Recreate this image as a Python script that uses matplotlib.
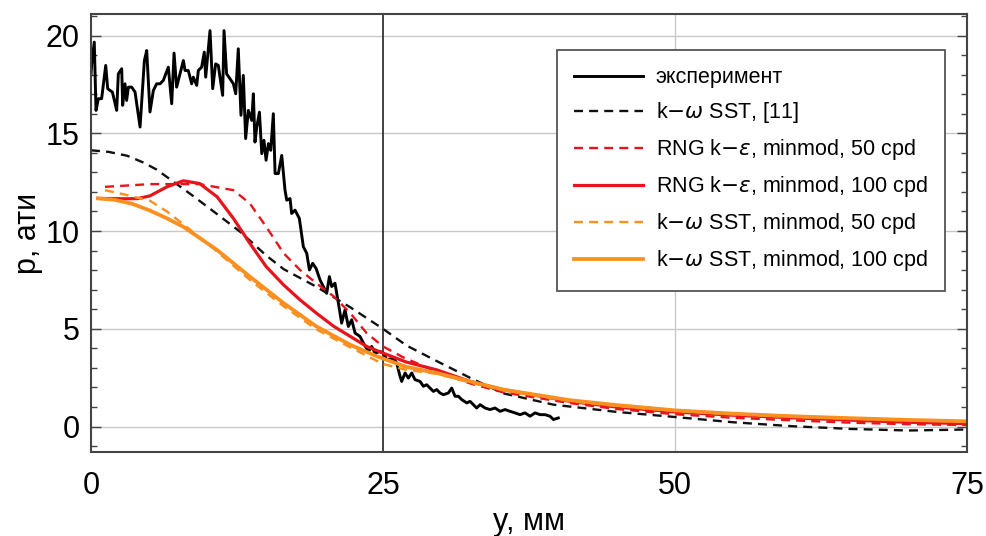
import matplotlib.pyplot as plt

plt.rcParams['font.family'] = ['Liberation Sans', 'DejaVu Sans']
plt.rcParams['mathtext.fontset'] = 'dejavusans'

exp_y = [0.0, 0.06, 0.28, 0.43, 0.63, 0.91, 1.26, 1.43, 1.63, 1.83, 2.00, 2.20, 2.34, 2.63, 2.71,
         2.91, 3.05, 3.20, 3.48, 3.77, 4.20, 4.57, 4.77, 5.05, 5.34, 5.62, 5.91, 6.19, 6.62, 6.91,
         7.11, 7.33, 7.62, 7.91, 8.05, 8.33, 8.62, 8.76, 9.05, 9.19, 9.47, 9.70, 9.82, 10.19, 10.42,
         10.67, 10.90, 11.27, 11.39, 11.61, 11.90, 12.19, 12.39, 12.61, 12.84, 13.04, 13.24, 13.47,
         13.76, 13.90,
         14.04, 14.19, 14.42, 14.62, 14.81, 14.99, 15.19, 15.39, 15.61, 15.76, 16.04, 16.33, 16.61,
         16.76, 17.04,
         17.18, 17.47, 17.84, 18.18, 18.47, 18.70, 18.98, 19.27, 19.61, 19.89, 20.18, 20.41, 20.61,
         20.89, 21.18, 21.46, 21.75, 22.03, 22.32, 22.61, 23.03, 23.32, 23.75, 24.03, 24.32, 24.75,
         25.03, 25.32, 25.89, 26.17, 26.46, 26.60, 26.89, 27.17, 27.46, 27.74, 28.17, 28.46, 28.74,
         29.03, 29.31, 29.60, 29.88, 30.17, 30.60, 30.88, 31.17, 31.45, 31.74, 32.17, 32.45, 32.74,
         33.02, 33.31, 33.74, 34.16, 34.59, 35.02, 35.45, 35.88, 36.30, 36.73, 37.16, 37.59, 38.02,
         38.45, 38.87, 39.30, 39.59, 40.01]
exp_p = [18.0, 18.55, 19.66, 16.17, 16.77, 16.77, 18.47, 17.28, 17.19, 17.11, 16.68, 16.17, 18.04,
         18.30, 16.43, 17.53, 16.68, 17.36, 17.36, 17.11, 15.32, 18.72, 19.23, 16.09, 17.19, 17.53,
         17.53, 17.70, 18.38, 16.51, 19.10, 17.36, 18.04, 18.72, 18.21, 18.21, 17.53, 17.87, 17.45,
         18.21, 18.38, 19.15, 17.87, 20.25, 17.28, 18.55, 18.47, 16.94, 20.25, 18.04, 17.79, 17.53,
         17.02, 19.32, 15.92, 17.96, 14.73, 16.17, 15.66, 17.02,
         14.55, 15.32, 16.08, 13.96, 14.64, 13.62, 14.47, 14.13, 16.00, 12.94, 12.94, 13.87, 12.09,
         11.58, 11.66,
         10.90, 11.07, 10.64, 9.20, 8.86, 8.01, 8.35, 8.09, 7.50, 7.16, 6.82, 7.67, 7.16, 7.33, 6.31,
         5.29, 5.97, 5.12, 5.46, 4.78, 4.61, 4.27, 3.84, 4.10, 3.76, 3.84,
         3.76, 3.42, 3.50, 3.25, 2.57, 2.31, 2.74, 2.48, 2.74, 2.40, 2.31, 2.06, 2.14, 1.97, 1.80,
         1.89, 1.72, 1.63, 1.72, 1.97, 1.55, 1.55, 1.38, 1.21, 1.29, 1.12, 0.95, 1.12, 0.95, 0.87,
         0.95, 0.78, 0.87, 0.78, 0.70, 0.61, 0.70, 0.53, 0.70, 0.61, 0.61, 0.53, 0.36, 0.44]

# k-omega SST, [11]
ref_y = [0, 1.5, 3.1, 4.5, 5.6, 7.0, 8.5, 10.5, 12.8, 15.0, 16.5, 19.3, 22.2, 25, 27, 29.6, 32.5,
         35.3, 39.6, 45, 50, 55, 60, 65, 70, 75]
ref_p = [14.13, 14.05, 13.85, 13.5, 13.15, 12.55, 11.9, 11.0, 9.95, 8.75, 8.05, 7.15, 6.1, 5.0,
         4.15, 3.35, 2.48, 1.7, 1.12, 0.75, 0.49, 0.22, 0.02, -0.12, -0.2, -0.15]

# RNG k-eps, 50 cpd
rng50_y = [1.2, 5.05, 9.3, 12.2, 13.6, 15.0, 16.5, 17.9, 19.3, 20.8, 22.2, 23.6, 25, 26.7, 29.6,
           32.5, 35.3, 41, 45, 50, 55, 60, 65, 70, 75]
rng50_p = [12.26, 12.4, 12.4, 12.09, 11.41, 10.22, 8.86, 8.01, 7.33, 6.65, 5.8, 4.78, 4.1, 3.55,
           2.8, 2.2, 1.75, 1.2, 0.9, 0.63, 0.45, 0.32, 0.2, 0.12, 0.08]

# RNG k-eps, 100 cpd
rng100_y = [0.6, 3, 4.0, 5.05, 6.5, 7.9, 9.3, 10.8, 12.2, 13.6, 15.0, 16.5, 17.9, 19.3, 20.8,
            22.2, 23.6, 25, 27, 29.6, 32.45, 35.3, 41, 45, 50, 55, 60, 65, 70, 75]
rng100_p = [11.67, 11.65, 11.66, 11.8, 12.26, 12.57, 12.43, 11.75, 10.64, 9.37, 8.18, 7.24, 6.48,
            5.8, 5.12, 4.61, 4.1, 3.76, 3.3, 2.9, 2.31, 1.89, 1.29, 1.0, 0.75, 0.58, 0.45, 0.33,
            0.22, 0.15]

# k-omega SST, 50 cpd
sst50_y = [1.2, 3, 5.05, 6.5, 7.9, 10.8, 13.6, 16.5, 19.3, 22.2, 25, 27, 29.6, 32.5, 35.3, 41,
           45, 50, 55, 60, 65, 70, 75]
sst50_p = [12.09, 11.85, 11.55, 11.0, 10.35, 8.95, 7.5, 6.15, 4.97, 4.05, 3.2, 2.9, 2.7, 2.25,
           1.85, 1.3, 1.05, 0.8, 0.63, 0.5, 0.4, 0.32, 0.25]

# k-omega SST, 100 cpd
sst100_y = [0.6, 2, 3.5, 5.05, 6.5, 7.9, 10.8, 13.6, 16.5, 19.3, 22.2, 24.5, 27, 29.6, 32.5, 35.3,
            41, 45, 50, 55, 60, 65, 70, 75]
sst100_p = [11.67, 11.6, 11.4, 11.05, 10.65, 10.22, 9.03, 7.67, 6.31, 5.12, 4.18, 3.59, 3.05,
            2.74, 2.3, 1.89, 1.35, 1.1, 0.83, 0.66, 0.53, 0.43, 0.34, 0.27]

red = '#e8141c'
orange = '#fb8f1f'

fig = plt.figure(figsize=(9.87, 5.36), dpi=100)
ax = fig.add_axes([91/987, 1 - 452/536, 876/987, 438/536])

for yv in [0, 5, 10, 15, 20]:
    ax.axhline(yv, color='#c8c8c8', lw=1, zorder=0)
ax.axvline(50, color='#c8c8c8', lw=1, zorder=0)
ax.axvline(25, color='#222222', lw=1.2, zorder=1)

ax.plot(exp_y, exp_p, color='black', lw=2.1, label='эксперимент')
ax.plot(ref_y, ref_p, color='#111111', lw=1.7, dashes=(3.8, 2.6), label='k$-\\omega$ SST, [11]')
ax.plot(rng50_y, rng50_p, color=red, lw=1.7, dashes=(3.8, 2.6), label='RNG k$-\\epsilon$, minmod, 50 cpd')
ax.plot(rng100_y, rng100_p, color=red, lw=2.3, label='RNG k$-\\epsilon$, minmod, 100 cpd')
ax.plot(sst50_y, sst50_p, color=orange, lw=1.7, dashes=(3.8, 2.6), label='k$-\\omega$ SST, minmod, 50 cpd')
ax.plot(sst100_y, sst100_p, color=orange, lw=2.7, label='k$-\\omega$ SST, minmod, 100 cpd')

ax.set_xlim(0, 75)
ax.set_ylim(-1.3, 21.1)
ax.set_xticks([0, 25, 50, 75])
ax.set_yticks([0, 5, 10, 15, 20])
ax.set_yticks(range(-1, 22), minor=True)
ax.tick_params(axis='y', which='major', direction='in', length=7, width=1, right=True,
               labelsize=22, pad=8, color='#444444')
ax.tick_params(axis='y', which='minor', direction='in', length=4, width=1, right=True,
               color='#444444')
ax.tick_params(axis='x', which='major', direction='in', length=0, labelsize=22, pad=14)
for s in ax.spines.values():
    s.set_color('#444444')
    s.set_linewidth(1.5)

ax.set_xlabel('y, мм', fontsize=22, labelpad=4)
ax.set_ylabel('p, ати', fontsize=22, labelpad=2)

leg = ax.legend(loc='upper right', bbox_to_anchor=(0.975, 0.918), borderaxespad=0,
                fontsize=15.5, handlelength=3.2, handletextpad=0.6, labelspacing=0.56,
                fancybox=False, framealpha=1, edgecolor='#555555', borderpad=0.8)
leg.get_frame().set_linewidth(1.3)

fig.savefig('out.png', dpi=100)
